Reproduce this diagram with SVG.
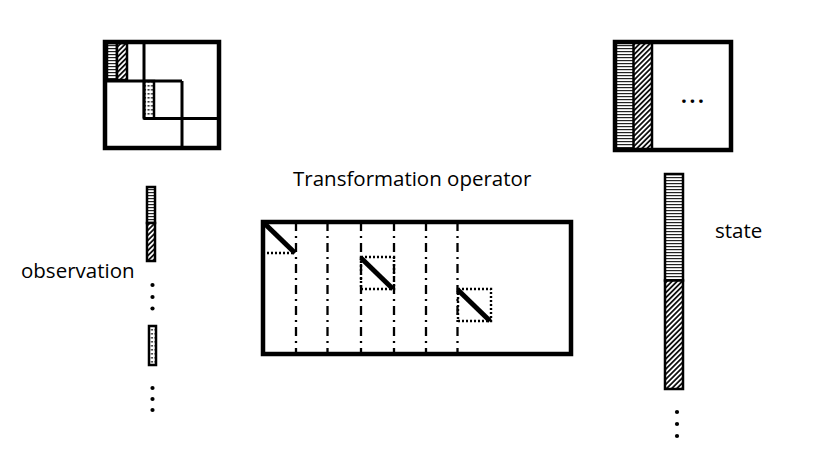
<svg xmlns="http://www.w3.org/2000/svg" width="817" height="459" viewBox="0 0 817 459">
<defs>
<pattern id="hstripe" patternUnits="userSpaceOnUse" width="6" height="3">
<rect width="6" height="3" fill="#fff"/>
<rect y="0" width="6" height="1.2" fill="#222"/>
</pattern>
<pattern id="diag" patternUnits="userSpaceOnUse" width="3.6" height="3.6" patternTransform="rotate(45)">
<rect width="3.6" height="3.6" fill="#fff"/>
<rect x="0" width="1.8" height="3.6" fill="#111"/>
</pattern>
<pattern id="dots" patternUnits="userSpaceOnUse" width="3.5" height="4">
<rect width="3.5" height="4" fill="#fff"/>
<rect x="0.5" y="1" width="2" height="1.6" fill="#333"/>
</pattern>
</defs>
<style>
.frame{fill:none;stroke:#000;stroke-width:4.5}
.line{stroke:#000;stroke-width:3;fill:none}
.bar{stroke:#000;stroke-width:2.5}
.dashdot{stroke:#000;stroke-width:2.3;stroke-dasharray:9 5 2 5;fill:none}
.dotted{stroke:#000;stroke-width:2.4;stroke-dasharray:2 2;fill:none}
.diagline{stroke:#000;stroke-width:5;stroke-linecap:butt}
.lbl{font-family:"Open Sans","Liberation Sans",sans-serif;font-size:20.5px;fill:#000}
</style>
<rect width="817" height="459" fill="#fff"/>

<g id="observation-matrix">
<rect x="107" y="43" width="10" height="37" fill="url(#hstripe)" class="bar"/>
<rect x="117" y="43" width="10" height="37" fill="url(#diag)" class="bar"/>
<rect x="144" y="81" width="10" height="37.5" fill="url(#dots)" class="bar"/>
<line x1="144" y1="42" x2="144" y2="118.5" class="line"/>
<line x1="105" y1="81" x2="182" y2="81" class="line"/>
<line x1="182" y1="81" x2="182" y2="148" class="line"/>
<line x1="144" y1="118.5" x2="219" y2="118.5" class="line"/>
<rect x="105" y="42" width="114" height="106" class="frame"/>
</g>

<g id="state-matrix">
<rect x="615" y="42" width="18.5" height="108" fill="url(#hstripe)"/>
<rect x="633.5" y="42" width="18.5" height="108" fill="url(#diag)"/>
<line x1="633.5" y1="42" x2="633.5" y2="150" class="bar"/>
<line x1="652" y1="42" x2="652" y2="150" class="bar"/>
<rect x="615" y="42" width="116" height="108" class="frame"/>
<text x="681" y="103" class="lbl" font-size="22" font-weight="bold" letter-spacing="2.6">...</text>
</g>

<g id="observation-vector">
<rect x="147" y="187" width="8" height="36" fill="url(#hstripe)" class="bar"/>
<rect x="147" y="223" width="8" height="38" fill="url(#diag)" class="bar"/>
<circle cx="152.5" cy="285" r="2.1"/>
<circle cx="152.5" cy="297" r="2.1"/>
<circle cx="152.5" cy="308.5" r="2.1"/>
<rect x="149" y="326" width="7" height="39" fill="url(#dots)" class="bar"/>
<circle cx="152.5" cy="388" r="2.1"/>
<circle cx="152.5" cy="399" r="2.1"/>
<circle cx="152.5" cy="410" r="2.1"/>
</g>
<g id="observation-label"><text x="21" y="278" class="lbl">observation</text></g>

<g id="state-vector">
<rect x="665" y="174" width="18" height="106.5" fill="url(#hstripe)" class="bar"/>
<rect x="665" y="280.5" width="18" height="108.5" fill="url(#diag)" class="bar"/>
<circle cx="677" cy="412" r="2.1"/>
<circle cx="677" cy="424" r="2.1"/>
<circle cx="677" cy="436" r="2.1"/>
</g>
<g id="state-label"><text x="715" y="238" class="lbl">state</text></g>

<g id="operator-label"><text x="293" y="186" class="lbl">Transformation operator</text></g>

<g id="transformation-operator">
<line x1="296" y1="222" x2="296" y2="354" class="dashdot"/>
<line x1="327.5" y1="222" x2="327.5" y2="354" class="dashdot"/>
<line x1="361" y1="222" x2="361" y2="354" class="dashdot"/>
<line x1="394" y1="222" x2="394" y2="354" class="dashdot"/>
<line x1="426" y1="222" x2="426" y2="354" class="dashdot"/>
<line x1="457.5" y1="222" x2="457.5" y2="354" class="dashdot"/>
<line x1="263" y1="253" x2="295" y2="253" class="dotted"/>
<rect x="361" y="257" width="33" height="32" class="dotted"/>
<rect x="458" y="289" width="33" height="32" class="dotted"/>
<line x1="264" y1="223" x2="295" y2="253" class="diagline"/>
<line x1="361" y1="258" x2="393" y2="289" class="diagline"/>
<line x1="458" y1="290" x2="490" y2="321" class="diagline"/>
<rect x="263" y="222" width="308" height="132" class="frame"/>
</g>
</svg>
